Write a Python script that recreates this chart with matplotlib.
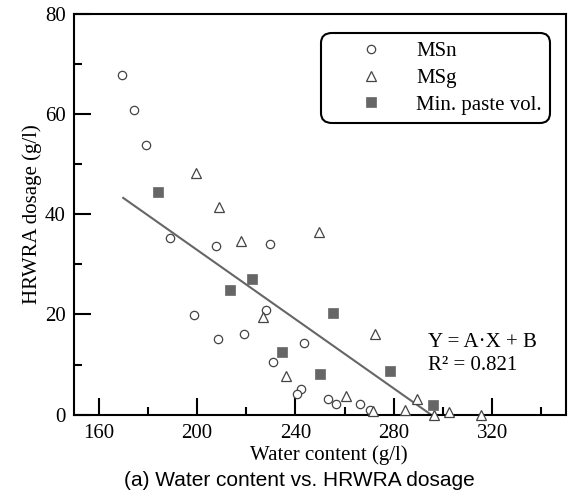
import matplotlib
matplotlib.use("Agg")
import matplotlib.pyplot as plt

# Dados (teor de água vs. dosagem de HRWRA)
msn_x = [169.7, 174.5, 179.4, 189.1, 207.8, 229.7, 228.1, 198.9, 208.6, 219.2,
         243.3, 230.7, 242.2, 240.7, 253.3, 256.6, 266.1, 270.4]
msn_y = [67.8, 60.8, 53.8, 35.2, 33.7, 34.0, 20.9, 19.9, 15.1, 16.1,
         14.2, 10.6, 5.1, 4.2, 3.1, 2.2, 2.1, 1.0]

msg_x = [199.6, 208.9, 217.9, 249.5, 227.0, 236.2, 272.5, 260.5, 271.5, 284.4,
         289.4, 296.3, 302.3, 315.3]
msg_y = [48.3, 41.5, 34.7, 36.5, 19.4, 7.7, 16.1, 3.7, 0.8, 0.9,
         3.2, 0.0, 0.5, 0.0]

pasta_x = [184.3, 222.4, 213.6, 255.1, 234.5, 250.1, 278.4, 295.9]
pasta_y = [44.5, 27.1, 24.9, 20.3, 12.5, 8.2, 8.7, 2.0]

# Recta de regressão Y = A*X + B
A = -0.346
B = 102.1
reta_x = [170, 295]
reta_y = [A * x + B for x in reta_x]

plt.rcParams['font.family'] = 'Liberation Serif'

fig = plt.figure(figsize=(5.73, 4.97), dpi=100)
ax = fig.add_axes([0.1291, 0.1658, 0.8587, 0.806])

ax.plot(reta_x, reta_y, color='#666666', lw=1.5, zorder=2)
ax.plot(msn_x, msn_y, 'o', ms=6, mfc='white', mec='#444444', mew=0.9,
        ls='none', label='MSn', clip_on=False, zorder=3)
ax.plot(msg_x, msg_y, '^', ms=7, mfc='white', mec='#444444', mew=0.9,
        ls='none', label='MSg', clip_on=False, zorder=3)
ax.plot(pasta_x, pasta_y, 's', ms=6.5, mfc='#666666', mec='#666666', mew=0.5,
        ls='none', label='Min. paste vol.', clip_on=False, zorder=3)

ax.set_xlim(150, 350)
ax.set_ylim(0, 80)
ax.set_xticks([160, 200, 240, 280, 320])
ax.set_xticks([180, 220, 260, 300, 340], minor=True)
ax.set_yticks([0, 20, 40, 60, 80])
ax.set_yticks([10, 30, 50, 70], minor=True)
ax.tick_params(which='both', direction='in', width=1.5, labelsize=15,
               top=False, right=False)
ax.tick_params(which='major', length=12)
ax.tick_params(which='minor', length=6)
ax.tick_params(axis='x', pad=7)
ax.tick_params(axis='y', pad=6)
for s in ax.spines.values():
    s.set_linewidth(1.5)

ax.set_ylabel('HRWRA dosage (g/l)', fontsize=15, labelpad=2)
fig.text(0.573, 0.085, 'Water content (g/l)', fontsize=15, ha='center', va='center')
fig.text(0.522, 0.033, '(a) Water content vs. HRWRA dosage', fontsize=15,
         family='Liberation Sans', ha='center', va='center')

ax.text(294, 14.3, 'Y = A·X + B', fontsize=15, va='center')
ax.text(294, 9.9, 'R² = 0.821', fontsize=15, va='center')

leg = ax.legend(loc='upper right', bbox_to_anchor=(0.9675, 0.9526), borderaxespad=0,
                fontsize=15, handlelength=4.0, handletextpad=0.15, labelspacing=0.35,
                borderpad=0.4, fancybox=True, frameon=True, framealpha=1,
                edgecolor='black')
leg.get_frame().set_linewidth(1.5)
leg.get_frame().set_boxstyle('round', pad=0, rounding_size=0.5)

fig.savefig('out.png', dpi=100)
